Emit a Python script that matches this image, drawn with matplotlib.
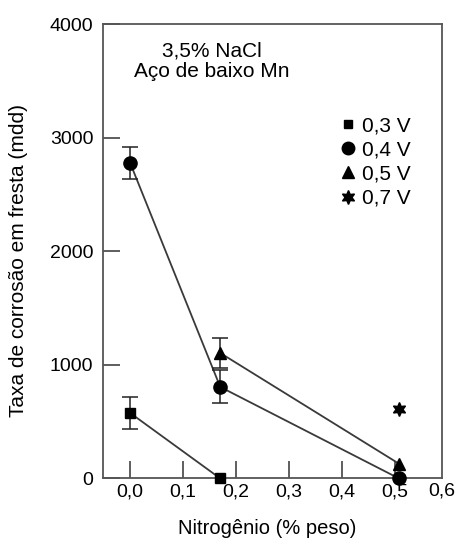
import numpy as np
from matplotlib import pyplot as plt
from matplotlib.transforms import blended_transform_factory

plt.rcParams['font.family'] = ['Liberation Sans', 'DejaVu Sans']

# Nitrogen content (% weight) and crevice corrosion rate (mdd) per potential
n_03 = [0.0, 0.17]
r_03 = [577, 0]
e_03 = [140, 0]

n_04 = [0.0, 0.17, 0.507]
r_04 = [2780, 806, 0]
e_04 = [140, 145, 0]

n_05 = [0.17, 0.507]
r_05 = [1105, 130]
e_05 = [130, 0]

n_07 = [0.507]
r_07 = [615]

x_ticks = [0.0, 0.1, 0.2, 0.3, 0.4, 0.5]
x_labels = ['0,0', '0,1', '0,2', '0,3', '0,4', '0,5']
y_ticks = [0, 1000, 2000, 3000, 4000]

series = [
	('0,3 V', n_03, r_03, e_03, 's', 6.5),
	('0,4 V', n_04, r_04, e_04, 'o', 9.5),
	('0,5 V', n_05, r_05, e_05, '^', 9),
]

fig = plt.figure(figsize=(4.56, 5.4), dpi=100)
ax = fig.add_axes([0.226, 0.114, 0.743, 0.841])

for label, x, y, err, mk, ms in series:
	ax.plot(x, y, '-', color='#3a3a3a', lw=1.3, zorder=1)
	yerr = np.array(err, dtype=float)
	ax.errorbar(x, y, yerr=np.where(yerr > 0, yerr, np.nan), fmt='none',
				ecolor='#222222', elinewidth=1.1, capsize=6, capthick=1.1, zorder=2)
	ax.plot(x, y, mk, color='black', ms=ms, label=label, zorder=3, clip_on=False)

ax.plot(n_07, r_07, marker=(6, 1, 0), ls='none', color='black', ms=10,
		label='0,7 V', zorder=3)

ax.set_xlim(-0.051, 0.588)
ax.set_ylim(0, 4000)
ax.set_xticks(x_ticks)
ax.set_xticklabels(x_labels)
ax.set_yticks(y_ticks)
ax.tick_params(direction='in', length=12, width=1.1, color='#333333',
			   labelsize=14, pad=4)
ax.tick_params(axis='y', pad=7)

# last x label sits past the right spine, flush with the figure edge
trans = blended_transform_factory(fig.transFigure, ax.transAxes)
ax.text(0.998, -0.01, '0,6', transform=trans, fontsize=14,
		ha='right', va='top', clip_on=False)

for s in ax.spines.values():
	s.set_color('#555555')
	s.set_linewidth(1.3)

fig.text(0.585, 0.003, 'Nitrogênio (% peso)', fontsize=14.5,
		 ha='center', va='bottom')
fig.text(0.040, 0.517, 'Taxa de corrosão em fresta (mdd)', fontsize=15,
		 rotation=90, ha='center', va='center')

ax.text(0.32, 0.962, '3,5% NaCl\nAço de baixo Mn', transform=ax.transAxes,
		ha='center', va='top', fontsize=15, linespacing=1.1)

leg = ax.legend(loc='upper left', bbox_to_anchor=(0.667, 0.816), frameon=False,
				fontsize=15, handletextpad=0.2, labelspacing=0.25,
				handlelength=1.0, borderaxespad=0)
for h, s in zip(leg.legend_handles, [6, 9, 9, 10]):
	h.set_markersize(s)

plt.savefig('out.png', dpi=100)
